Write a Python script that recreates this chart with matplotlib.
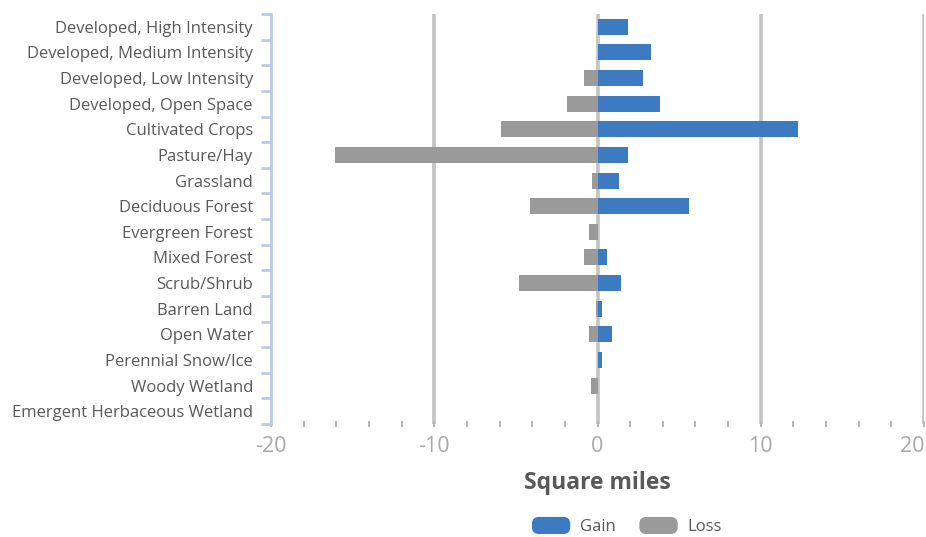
import matplotlib
matplotlib.use("Agg")
import matplotlib.pyplot as plt
import matplotlib.transforms as mtransforms
import numpy as np
from matplotlib.patches import FancyBboxPatch
from matplotlib.legend_handler import HandlerPatch

categories = [
    "Developed, High Intensity",
    "Developed, Medium Intensity",
    "Developed, Low Intensity",
    "Developed, Open Space",
    "Cultivated Crops",
    "Pasture/Hay",
    "Grassland",
    "Deciduous Forest",
    "Evergreen Forest",
    "Mixed Forest",
    "Scrub/Shrub",
    "Barren Land",
    "Open Water",
    "Perennial Snow/Ice",
    "Woody Wetland",
    "Emergent Herbaceous Wetland",
]
gain = [1.85, 3.3, 2.8, 3.85, 12.3, 1.85, 1.3, 5.6, 0.05, 0.6, 1.45, 0.25, 0.9, 0.25, 0.05, 0.0]
loss = [0.0, 0.0, -0.85, -1.85, -5.9, -16.05, -0.35, -4.15, -0.55, -0.8, -4.8, -0.1, -0.5, 0.0, -0.4, 0.0]

xticks = [-20, -10, 0, 10, 20]

plt.rcParams['font.family'] = ['Open Sans', 'DejaVu Sans']

fig = plt.figure(figsize=(9.26, 5.37), dpi=100)
ax = fig.add_axes([271/926, 1 - 424/537, (924-271)/926, (424-14)/537])

y = np.arange(len(categories))
gain_c = "#3c7bc1"
loss_c = "#9a9a9a"
ax.barh(y, loss, height=0.62, color=loss_c, zorder=3, label="Loss")
ax.barh(y, gain, height=0.62, color=gain_c, zorder=3, label="Gain")

ax.set_xlim(-20, 20)
ax.set_ylim(len(categories) - 0.5, -0.5)

for xv in [-10, 0, 10, 20]:
    ax.axvline(xv, color="#c3c3c3", lw=2.6, zorder=1)

for s in ["top", "right", "bottom"]:
    ax.spines[s].set_visible(False)
ax.spines["left"].set_color("#b9cbe6")
ax.spines["left"].set_linewidth(2)

ax.set_yticks(y)
ax.set_yticklabels(categories, fontsize=12, color="#595959")
ax.set_yticks(np.arange(-0.5, len(categories), 1.0), minor=True)
ax.tick_params(axis="y", which="major", length=0, pad=13)
ax.tick_params(axis="y", which="minor", length=7, width=2, color="#b9cbe6", direction="out")

ax.set_xticks(xticks)
ax.set_xticklabels([str(v) for v in xticks], fontsize=15.5, color="#a8a8a8")
ax.set_xticks(np.arange(-20, 21, 2), minor=True)
ax.tick_params(axis="x", which="both", length=5, width=1.5, color="#b8b8b8", direction="inout", pad=6)
last = ax.get_xticklabels()[-1]
last.set_transform(last.get_transform() + mtransforms.ScaledTranslation(-12/100, 0, fig.dpi_scale_trans))

ax.set_xlabel("Square miles", fontsize=16.5, fontweight="bold", color="#595959", labelpad=10)


class RoundHandler(HandlerPatch):
    def create_artists(self, legend, orig_handle, xdescent, ydescent, width, height, fontsize, trans):
        p = FancyBboxPatch((-xdescent, -ydescent), width, height,
                           boxstyle="round,pad=0,rounding_size=5",
                           facecolor=orig_handle.get_facecolor(), edgecolor="none",
                           transform=trans)
        return [p]


handles, labels = ax.get_legend_handles_labels()
order = [1, 0]
hb = [handles[i].patches[0] for i in order]
leg = fig.legend(hb, [labels[i] for i in order], loc="center", bbox_to_anchor=(627/926, 1 - 526/537),
                 ncol=2, frameon=False, fontsize=12, handlelength=2.3, handleheight=1.2,
                 columnspacing=1.4, handletextpad=0.6,
                 handler_map={matplotlib.patches.Rectangle: RoundHandler()})
for t in leg.get_texts():
    t.set_color("#595959")

fig.savefig("out.png", dpi=100)
